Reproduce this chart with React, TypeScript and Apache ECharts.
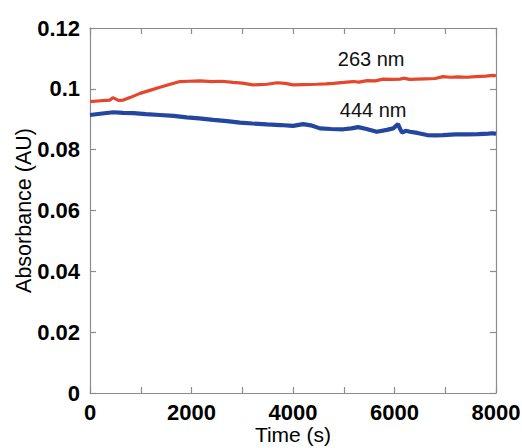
import React, { useEffect, useRef } from "react";
import * as echarts from "echarts";

const timeRed = [0, 150, 300, 394, 450, 560, 657, 800, 985, 1180, 1379, 1580, 1773, 1950, 2167, 2400, 2600, 2818, 3000, 3212, 3350, 3488, 3685, 3850, 4000, 4200, 4467, 4650, 4795, 5000, 5187, 5300, 5460, 5620, 5778, 5950, 6108, 6180, 6300, 6443, 6600, 6800, 6955, 7100, 7250, 7429, 7600, 7800, 7941, 8000];
const absRed = [0.0958, 0.0960, 0.0962, 0.0963, 0.0971, 0.0962, 0.0963, 0.0972, 0.0985, 0.0995, 0.1005, 0.1015, 0.1024, 0.1025, 0.1026, 0.1024, 0.1025, 0.1021, 0.1019, 0.1013, 0.1014, 0.1015, 0.1020, 0.1018, 0.1013, 0.1014, 0.1015, 0.1016, 0.1018, 0.1021, 0.1024, 0.1022, 0.1027, 0.1026, 0.1032, 0.1031, 0.1032, 0.1035, 0.1031, 0.1032, 0.1033, 0.1034, 0.1040, 0.1038, 0.1039, 0.1038, 0.1040, 0.1042, 0.1044, 0.1043];

const timeBlue = [0, 200, 460, 650, 854, 1100, 1379, 1650, 1905, 2150, 2430, 2700, 2956, 3200, 3488, 3750, 4000, 4200, 4350, 4532, 4750, 4990, 5150, 5285, 5450, 5650, 5850, 5975, 6070, 6100, 6148, 6220, 6305, 6450, 6640, 6800, 6955, 7200, 7429, 7650, 7850, 7941, 8000];
const absBlue = [0.0914, 0.0918, 0.0923, 0.0921, 0.0920, 0.0917, 0.0914, 0.0911, 0.0906, 0.0903, 0.0898, 0.0894, 0.0889, 0.0886, 0.0883, 0.0881, 0.0878, 0.0884, 0.0880, 0.0870, 0.0868, 0.0867, 0.0870, 0.0874, 0.0868, 0.0859, 0.0865, 0.0870, 0.0884, 0.0872, 0.0856, 0.0862, 0.0859, 0.0855, 0.0848, 0.0847, 0.0848, 0.0850, 0.0850, 0.0851, 0.0853, 0.0854, 0.0852];

const labelRed = { text: "263 nm", t: 5540, a: 0.1098 };
const labelBlue = { text: "444 nm", t: 5580, a: 0.0930 };

const xTicks = { min: 0, max: 8000, interval: 1000, labelStep: 2000 };
const yTicks = { min: 0, max: 0.12, interval: 0.02 };

const FONT = "'Liberation Sans', Arial, Helvetica, sans-serif";
const AXIS_COLOR = "#8c8c8c";

export default function App() {
  const ref = useRef<HTMLDivElement>(null);
  useEffect(() => {
    if (!ref.current) return;
    const chart = echarts.init(ref.current, undefined, { renderer: "svg" });
    const redData = timeRed.map((t, i) => [t, absRed[i]]);
    const blueData = timeBlue.map((t, i) => [t, absBlue[i]]);
    const axisLine = { show: true, onZero: false, lineStyle: { color: AXIS_COLOR, width: 1.2 } };
    const axisTick = { show: true, inside: true, length: 6, lineStyle: { color: AXIS_COLOR, width: 1.2 } };
    chart.setOption({
      animation: false,
      backgroundColor: "#ffffff",
      grid: { left: 90, right: 26, top: 28, bottom: 55, containLabel: false, outerBoundsMode: "none" },
      xAxis: [
        {
          type: "value",
          min: xTicks.min,
          max: xTicks.max,
          interval: xTicks.interval,
          name: "Time (s)",
          nameLocation: "middle",
          nameGap: 31,
          nameMoveOverlap: false,
          nameTextStyle: { fontFamily: FONT, fontSize: 21, color: "#000" },
          axisLine,
          axisTick,
          splitLine: { show: false },
          axisLabel: {
            margin: 8,
            fontFamily: FONT,
            fontSize: 22,
            fontWeight: "bold",
            color: "#000",
            formatter: (v: number) => (v % xTicks.labelStep === 0 ? String(v) : ""),
          },
        },
        {
          type: "value",
          position: "top",
          min: xTicks.min,
          max: xTicks.max,
          interval: xTicks.interval,
          axisLine,
          axisTick,
          axisLabel: { show: false },
          splitLine: { show: false },
        },
      ],
      yAxis: [
        {
          type: "value",
          min: yTicks.min,
          max: yTicks.max,
          interval: yTicks.interval,
          name: "Absorbance (AU)",
          nameLocation: "middle",
          nameGap: 55,
          nameMoveOverlap: false,
          nameTextStyle: { fontFamily: FONT, fontSize: 21.5, color: "#000" },
          axisLine,
          axisTick,
          splitLine: { show: false },
          axisLabel: {
            margin: 10,
            fontFamily: FONT,
            fontSize: 22,
            fontWeight: "bold",
            color: "#000",
            formatter: (v: number) => String(parseFloat(v.toFixed(2))),
          },
        },
        {
          type: "value",
          position: "right",
          min: yTicks.min,
          max: yTicks.max,
          interval: yTicks.interval,
          axisLine,
          axisTick,
          axisLabel: { show: false },
          splitLine: { show: false },
        },
      ],
      series: [
        {
          name: labelRed.text,
          type: "line",
          data: redData,
          showSymbol: false,
          symbol: "none",
          lineStyle: { color: "#e4472b", width: 3.2 },
          markPoint: {
            symbol: "circle",
            symbolSize: 0,
            data: [{ coord: [labelRed.t, labelRed.a] }],
            label: {
              show: true,
              position: "inside",
              formatter: labelRed.text,
              fontFamily: FONT,
              fontSize: 20,
              color: "#111",
            },
          },
        },
        {
          name: labelBlue.text,
          type: "line",
          data: blueData,
          showSymbol: false,
          symbol: "none",
          lineStyle: { color: "#2446a0", width: 4.2 },
          markPoint: {
            symbol: "circle",
            symbolSize: 0,
            data: [{ coord: [labelBlue.t, labelBlue.a] }],
            label: {
              show: true,
              position: "inside",
              formatter: labelBlue.text,
              fontFamily: FONT,
              fontSize: 20,
              color: "#111",
            },
          },
        },
      ],
    });
    return () => chart.dispose();
  }, []);
  return (
    <div
      ref={ref}
      style={{ position: "fixed", left: 0, top: 0, width: 522, height: 448 }}
    />
  );
}
